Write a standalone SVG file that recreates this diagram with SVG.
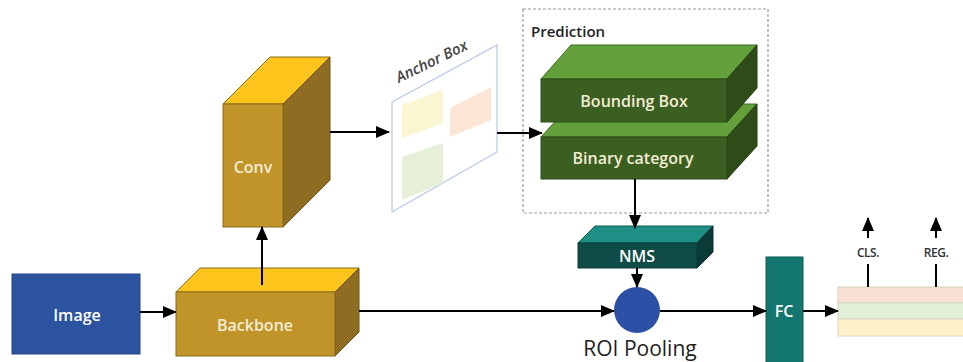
<svg xmlns="http://www.w3.org/2000/svg" width="963" height="362" viewBox="0 0 963 362">
  <defs>
    <marker id="arrow" markerUnits="userSpaceOnUse" markerWidth="14" markerHeight="12" refX="13" refY="6" orient="auto">
      <path d="M0,0 L14,6 L0,12 z" fill="#000"/>
    </marker>
    <style>
      .lbl { font-family: "Open Sans", "Liberation Sans", sans-serif; font-size: 16px; font-weight: 600; text-anchor: middle; }
      .cream { fill: #f3ecd4; }
      .white { fill: #ffffff; }
      .gold-front { fill: #c09428; stroke: #8a6a1c; stroke-width: 1; }
      .gold-top { fill: #fdc41c; stroke: #8a6a1c; stroke-width: 1; }
      .gold-side { fill: #8e6c22; stroke: #6e5318; stroke-width: 1; }
      .green-front { fill: #3b5f20; stroke: #2d4a17; stroke-width: 1; }
      .green-top { fill: #63a03c; stroke: #3f6a22; stroke-width: 1; }
      .green-side { fill: #2e4b18; stroke: #243c12; stroke-width: 1; }
      .teal-front { fill: #0f4c47; stroke: #0a3834; stroke-width: 1; }
      .teal-top { fill: #1f8e84; stroke: #0f5a54; stroke-width: 1; }
      .teal-side { fill: #0b3b37; stroke: #082c29; stroke-width: 1; }
      .conn { stroke: #000; stroke-width: 2; fill: none; }
      .tag { font-family: "Open Sans", "Liberation Sans", sans-serif; font-size: 12px; font-weight: 600; fill: #333; text-anchor: middle; letter-spacing: -0.5px; }
    </style>
  </defs>

  <!-- Input image -->
  <g id="image">
    <rect x="12" y="274" width="128" height="80" fill="#2c53a0" stroke="#24468a"/>
    <text class="lbl white" x="77" y="321">Image</text>
  </g>

  <!-- Backbone block -->
  <g id="backbone">
    <polygon class="gold-top" points="176,292 200,268 359,268 335,292"/>
    <polygon class="gold-side" points="335,292 359,268 359,332 335,356"/>
    <rect class="gold-front" x="176" y="292" width="159" height="64"/>
    <text class="lbl cream" x="255" y="331">Backbone</text>
  </g>

  <!-- Conv block -->
  <g id="conv">
    <polygon class="gold-top" points="223,104 270,57 330,57 283,104"/>
    <polygon class="gold-side" points="283,104 330,57 330,180 283,227"/>
    <rect class="gold-front" x="223" y="104" width="60" height="123"/>
    <text class="lbl cream" x="253" y="173">Conv</text>
  </g>

  <!-- Anchor box panel -->
  <g id="anchor-box">
    <polygon points="392,102 497,45 497,152 392,212" fill="#ffffff" stroke="#b4c6e7" stroke-width="1.2"/>
    <polygon points="402,105 443,90 443,123 402,138" fill="#fbf6d2"/>
    <polygon points="450,108 491,87 491,120 450,137" fill="#fbe5d4"/>
    <polygon points="402,157 443,143 443,183 402,200" fill="#e6efd8"/>
    <text transform="translate(399,83) rotate(-26)" font-family="Open Sans, Liberation Sans, sans-serif" font-size="15" font-style="italic" font-weight="600" fill="#444">Anchor Box</text>
  </g>

  <!-- Prediction heads -->
  <g id="prediction">
    <rect x="523" y="9" width="245" height="204" fill="none" stroke="#999" stroke-width="1.2" stroke-dasharray="3 2"/>
    <text x="531" y="37" font-family="Open Sans, Liberation Sans, sans-serif" font-size="15" font-weight="600" fill="#222">Prediction</text>
  </g>
  <g id="binary-category">
    <polygon class="green-top" points="541,137 571,104 757,104 727,137"/>
    <polygon class="green-side" points="727,137 757,104 757,146 727,179"/>
    <rect class="green-front" x="541" y="137" width="186" height="42"/>
    <text class="lbl cream" x="633" y="164">Binary category</text>
  </g>
  <g id="bounding-box">
    <polygon class="green-top" points="541,79 571,45 757,45 727,79"/>
    <polygon class="green-side" points="727,79 757,45 757,88 727,122"/>
    <rect class="green-front" x="541" y="79" width="186" height="43"/>
    <text class="lbl cream" x="634" y="107">Bounding  Box</text>
  </g>

  <!-- NMS -->
  <g id="nms">
    <polygon class="teal-top" points="578,243 595,226 713,226 697,243"/>
    <polygon class="teal-side" points="697,243 713,226 713,252 697,268"/>
    <rect class="teal-front" x="578" y="243" width="119" height="25"/>
    <text class="lbl white" x="637" y="262" font-size="15">NMS</text>
  </g>

  <!-- ROI pooling -->
  <g id="roi-pooling">
    <circle cx="637" cy="310" r="23" fill="#2b50a6"/>
    <text x="640" y="356" font-family="Open Sans, Liberation Sans, sans-serif" font-size="21" fill="#222" text-anchor="middle">ROI Pooling</text>
  </g>

  <!-- Fully connected -->
  <g id="fc">
    <rect x="766" y="257" width="37" height="110" fill="#137770" stroke="#0e5a54"/>
    <text class="lbl white" x="784" y="317">FC</text>
  </g>

  <!-- Output stack -->
  <g id="output">
    <rect x="838" y="287" width="130" height="16" fill="#f9e2d3" stroke="#d6cfc6"/>
    <rect x="838" y="303" width="130" height="16" fill="#e3eed7" stroke="#d0d6c8"/>
    <rect x="838" y="319" width="130" height="17" fill="#fdf1c9" stroke="#dcd6c0"/>
    <text class="tag" x="868" y="257">CLS.</text>
    <text class="tag" x="936" y="257">REG.</text>
  </g>

  <!-- Connectors -->
  <g id="connectors">
    <line class="conn" x1="140" y1="312" x2="176" y2="312" marker-end="url(#arrow)"/>
    <line class="conn" x1="262" y1="285" x2="262" y2="227" marker-end="url(#arrow)"/>
    <line class="conn" x1="330" y1="132" x2="389" y2="132" marker-end="url(#arrow)"/>
    <line class="conn" x1="497" y1="133" x2="542" y2="133" marker-end="url(#arrow)"/>
    <line class="conn" x1="635" y1="179" x2="635" y2="228" marker-end="url(#arrow)"/>
    <line class="conn" x1="637" y1="268" x2="637" y2="287" marker-end="url(#arrow)"/>
    <line class="conn" x1="359" y1="311" x2="614" y2="311" marker-end="url(#arrow)"/>
    <line class="conn" x1="660" y1="311" x2="766" y2="311" marker-end="url(#arrow)"/>
    <line class="conn" x1="803" y1="311" x2="838" y2="311" marker-end="url(#arrow)"/>
    <line class="conn" x1="868" y1="287" x2="868" y2="264"/>
    <line class="conn" x1="868" y1="238" x2="868" y2="218" marker-end="url(#arrow)"/>
    <line class="conn" x1="936" y1="287" x2="936" y2="264"/>
    <line class="conn" x1="936" y1="238" x2="936" y2="218" marker-end="url(#arrow)"/>
  </g>
</svg>
